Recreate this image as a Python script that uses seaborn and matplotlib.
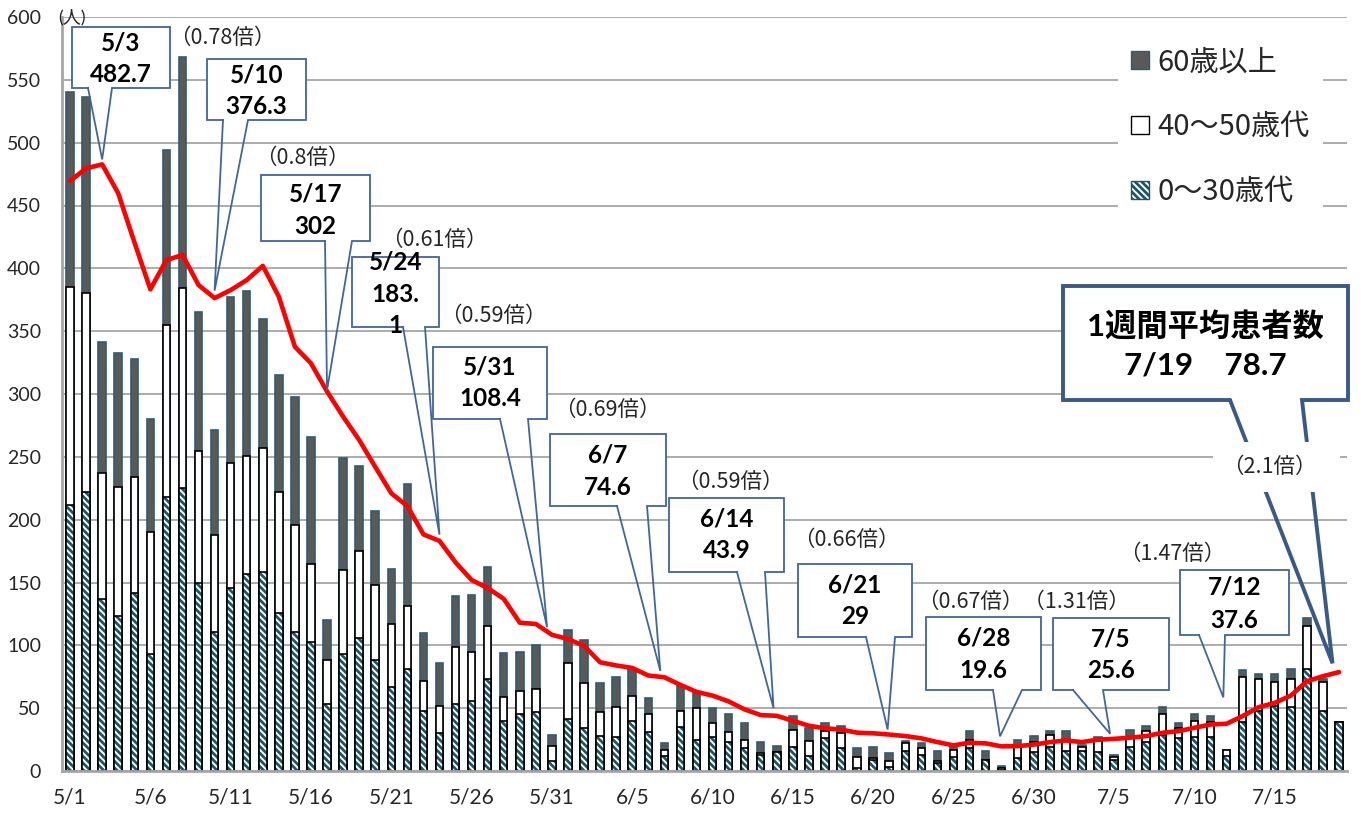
import numpy as np
import pandas as pd
import matplotlib
matplotlib.use('Agg')
import matplotlib.pyplot as plt
import seaborn as sns
from matplotlib.patches import Patch, Rectangle
from matplotlib.lines import Line2D

# ---------------- data ----------------
dates = pd.date_range('2020-05-01', '2020-07-19')
date_labels = [f'{d.month}/{d.day}' for d in dates]

age_0_30 = [212, 222, 137, 123, 142, 93, 218, 225, 150, 111,
            146, 157, 158, 126, 111, 103, 53, 93, 106, 88,
            67, 81, 48, 30, 53, 56, 73, 40, 45, 47,
            8, 41, 34, 28, 27, 40, 31, 12, 35, 25,
            27, 23, 18, 13, 15, 19, 12, 26, 18, 2,
            9, 3, 16, 13, 6, 11, 18, 9, 1, 10,
            15, 19, 16, 16, 15, 9, 19, 23, 29, 26,
            27, 27, 12, 39, 48, 52, 51, 81, 48, 39]
age_40_50 = [173, 158, 100, 103, 92, 97, 137, 159, 105, 77,
             99, 94, 99, 96, 85, 62, 35, 67, 69, 60,
             50, 50, 24, 22, 46, 39, 42, 19, 19, 18,
             12, 45, 36, 19, 24, 20, 14, 5, 13, 25,
             11, 8, 7, 1, 0, 14, 12, 6, 12, 9,
             1, 5, 6, 5, 2, 6, 7, 0, 1, 9,
             8, 10, 9, 3, 9, 2, 8, 9, 16, 8,
             13, 12, 5, 36, 25, 19, 22, 34, 23, 0]
age_60_plus = [155, 156, 104, 107, 94, 90, 139, 184, 110, 83,
               132, 131, 103, 93, 102, 101, 32, 89, 68, 59,
               44, 97, 38, 34, 40, 45, 47, 35, 31, 35,
               9, 26, 34, 23, 24, 21, 13, 5, 20, 13,
               12, 14, 13, 9, 5, 11, 10, 6, 6, 7,
               9, 6, 2, 4, 8, 4, 7, 7, 2, 6,
               5, 3, 7, 2, 3, 2, 6, 4, 6, 4,
               5, 5, 0, 5, 4, 6, 8, 7, 2, 0]
weekly_avg = [469.5, 479.6, 482.7, 459.7, 421.0, 383.3, 406.6, 410.6, 386.7, 376.3,
              382.7, 390.7, 402.0, 377.4, 337.6, 324.4, 302.0, 282.0, 263.4, 242.0,
              221.0, 210.8, 188.3, 183.1, 166.0, 152.0, 145.6, 137.0, 118.0, 117.0,
              108.4, 105.0, 99.6, 86.5, 84.0, 82.0, 76.0, 74.6, 68.5, 63.0,
              60.0, 55.4, 49.0, 44.5, 43.9, 40.0, 36.0, 34.0, 33.0, 30.5,
              30.0, 29.0, 27.8, 26.0, 23.0, 20.4, 22.5, 22.0, 19.6, 19.8,
              21.0, 23.0, 24.3, 23.0, 25.0, 25.6, 26.5, 27.8, 30.4, 31.7,
              34.4, 37.0, 37.6, 43.7, 50.8, 54.2, 60.0, 71.4, 75.4, 78.7]

legend_labels = ['60歳以上', '40～50歳代', '0～30歳代']
y_ticks = list(range(0, 601, 50))
x_tick_step = 5

# ---------------- style ----------------
W, H = 1370, 814
sns.set_theme(style='white')
plt.rcParams['font.family'] = ['Lato', 'Noto Sans CJK JP']
plt.rcParams['hatch.linewidth'] = 2.0

JP = ['Noto Sans CJK JP', 'DejaVu Sans']
DARK = '#595959'
DARK_EDGE = '#2f5d6e'
TEAL = '#1e5566'
HATCH = '\\\\\\\\\\'
BOX_EC = '#41669a'

fig = plt.figure(figsize=(W / 100, H / 100), dpi=100)
ax = fig.add_axes([62 / W, 1 - 771 / H, (1347 - 62) / W, (771 - 17) / H])

young = np.array(age_0_30, dtype=float)
mid = np.array(age_40_50, dtype=float)
old = np.array(age_60_plus, dtype=float)
cum2 = young + mid
total = cum2 + old

bw = 0.47
sns.barplot(x=date_labels, y=total, color=DARK, edgecolor=DARK_EDGE, linewidth=1.2,
            width=bw, saturation=1, errorbar=None, ax=ax, zorder=2)
sns.barplot(x=date_labels, y=cum2, color='white', edgecolor='black', linewidth=1.2,
            width=bw, saturation=1, errorbar=None, ax=ax, zorder=2)
sns.barplot(x=date_labels, y=young, color='white', edgecolor=TEAL, linewidth=0,
            hatch=HATCH, width=bw, saturation=1, errorbar=None, ax=ax, zorder=2)
sns.barplot(x=date_labels, y=young, color='black', fill=False, linewidth=1.2,
            width=bw, errorbar=None, ax=ax, zorder=2)

sns.lineplot(x=np.arange(len(weekly_avg)), y=weekly_avg, color='#ff0000', lw=3.3,
             ax=ax, zorder=4)

ax.set_xlim(-0.5, len(date_labels) - 0.5)
ax.set_ylim(0, 600)
ax.set_yticks(y_ticks)
ax.set_yticklabels([str(v) for v in y_ticks])
xt = list(range(0, len(date_labels), x_tick_step))
ax.set_xticks(xt)
ax.set_xticklabels([date_labels[i] for i in xt])
ax.tick_params(axis='x', length=0, pad=12, labelsize=15, labelcolor='#262626')
ax.tick_params(axis='y', length=0, pad=15, labelsize=14, labelcolor='#262626')
ax.set_xlabel('')
ax.set_ylabel('')
ax.yaxis.grid(True, color='#a6a6a6', lw=1.3)
ax.xaxis.grid(False)
ax.set_axisbelow(True)
for s in ['top', 'right']:
    ax.spines[s].set_visible(False)
for s in ['left', 'bottom']:
    ax.spines[s].set_color('#a6a6a6')
    ax.spines[s].set_linewidth(2)

handles = [Patch(facecolor=DARK, edgecolor=DARK_EDGE, lw=1),
           Patch(facecolor='white', edgecolor='black', lw=1),
           Patch(facecolor='white', edgecolor=TEAL, hatch=HATCH, lw=1)]
leg = ax.legend(handles, legend_labels, loc='upper left',
                bbox_to_anchor=(1118 / W, 1 - 34 / H), bbox_transform=fig.transFigure,
                prop={'family': JP, 'size': 21}, frameon=True, facecolor='white',
                edgecolor='none', framealpha=1, fancybox=False, handlelength=0.6,
                handleheight=0.6, handletextpad=0.3, labelspacing=1.2, borderpad=0.45,
                borderaxespad=0)
leg.set_zorder(5)

# ---------------- annotations (pixel layout) ----------------
def P(x, y):
    return x / W, 1 - y / H


def tip_px(i, dx, dy):
    d = ax.transData.transform((i + dx, weekly_avg[i] + dy))
    return d[0], H - d[1]


def callout(box, base, tip, lines, ys, fs=17.5, lw=1.3, ec=BOX_EC):
    x0, y0, x1, y1 = box
    bx0, bx1 = base
    fig.add_artist(Rectangle(P(x0, y1), (x1 - x0) / W, (y1 - y0) / H,
                             transform=fig.transFigure, facecolor='white',
                             edgecolor='none', zorder=5))
    tx, ty = tip
    pts = [(bx0, y1), (x0, y1), (x0, y0), (x1, y0), (x1, y1), (bx1, y1), (tx, ty), (bx0, y1)]
    xs = [P(*p)[0] for p in pts]
    yy = [P(*p)[1] for p in pts]
    fig.add_artist(Line2D(xs, yy, transform=fig.transFigure, color=ec, lw=lw,
                          zorder=6, solid_joinstyle='miter'))
    cx = (x0 + x1) / 2
    for s, y in zip(lines, ys):
        fig.text(*P(cx, y), s, ha='center', va='center', fontsize=fs,
                 fontweight='bold', color='black', zorder=7)


def ratio(text, x, y):
    fig.text(*P(x, y), text, ha='center', va='center', fontsize=15.5,
             family=JP, color='#262626', zorder=7)


callout((72, 27, 170, 88), (88, 112), tip_px(2, 0, 4), ['5/3', '482.7'], [43, 74])
ratio('（0.78倍）', 222, 38)
callout((207, 59, 306, 120), (223, 248), tip_px(9, 0, 6), ['5/10', '376.3'], [75, 107])
ratio('（0.8倍）', 302, 158)
callout((261, 175, 370, 241), (325, 352), tip_px(16, 0, 1), ['5/17', '302'], [194, 226])
ratio('（0.61倍）', 434, 240)
callout((352, 257, 439, 327), (403, 425), tip_px(23, 0, 5), ['5/24', '183.', '1'], [262, 294, 326])
ratio('（0.59倍）', 493, 316)
callout((433, 347, 547, 419), (500, 528), tip_px(30, -0.3, 6), ['5/31', '108.4'], [367, 399])
ratio('（0.69倍）', 607, 410)
callout((550, 434, 666, 506), (617, 647), tip_px(37, -0.25, 5), ['6/7', '74.6'], [455, 487])
ratio('（0.59倍）', 730, 482)
callout((669, 498, 784, 572), (737, 765), tip_px(44, -0.2, 6), ['6/14', '43.9'], [519, 551])
ratio('（0.66倍）', 846, 540)
callout((798, 564, 912, 637), (866, 895), tip_px(51, -0.1, 4), ['6/21', '29'], [585, 617])
ratio('（0.67倍）（1.31倍）', 1023, 602)
callout((926, 617, 1041, 690), (993, 1022), tip_px(58, -0.1, 8), ['6/28', '19.6'], [638, 671])
callout((1053, 618, 1169, 690), (1073, 1103), tip_px(65, -0.25, 4), ['7/5', '25.6'], [639, 671])
ratio('（1.47倍）', 1172, 554)
callout((1180, 570, 1289, 635), (1199, 1225), tip_px(72, -0.2, 21), ['7/12', '37.6'], [587, 620])

callout((1063, 286, 1348, 400), (1230, 1302), tip_px(79, -0.4, 7),
        ['1週間平均患者数', '7/19\u300078.7'], [326, 366], fs=22.5, lw=2.8, ec='#3a5a85')
fig.add_artist(Rectangle(P(1213, 492), 127 / W, 50 / H, transform=fig.transFigure,
                         facecolor='white', edgecolor='none', zorder=6.5))
ratio('（2.1倍）', 1269, 467)

fig.text(*P(72, 17), '(人)', ha='center', va='center', fontsize=13, color='#262626', zorder=7)

fig.savefig('out.png', dpi=100)
